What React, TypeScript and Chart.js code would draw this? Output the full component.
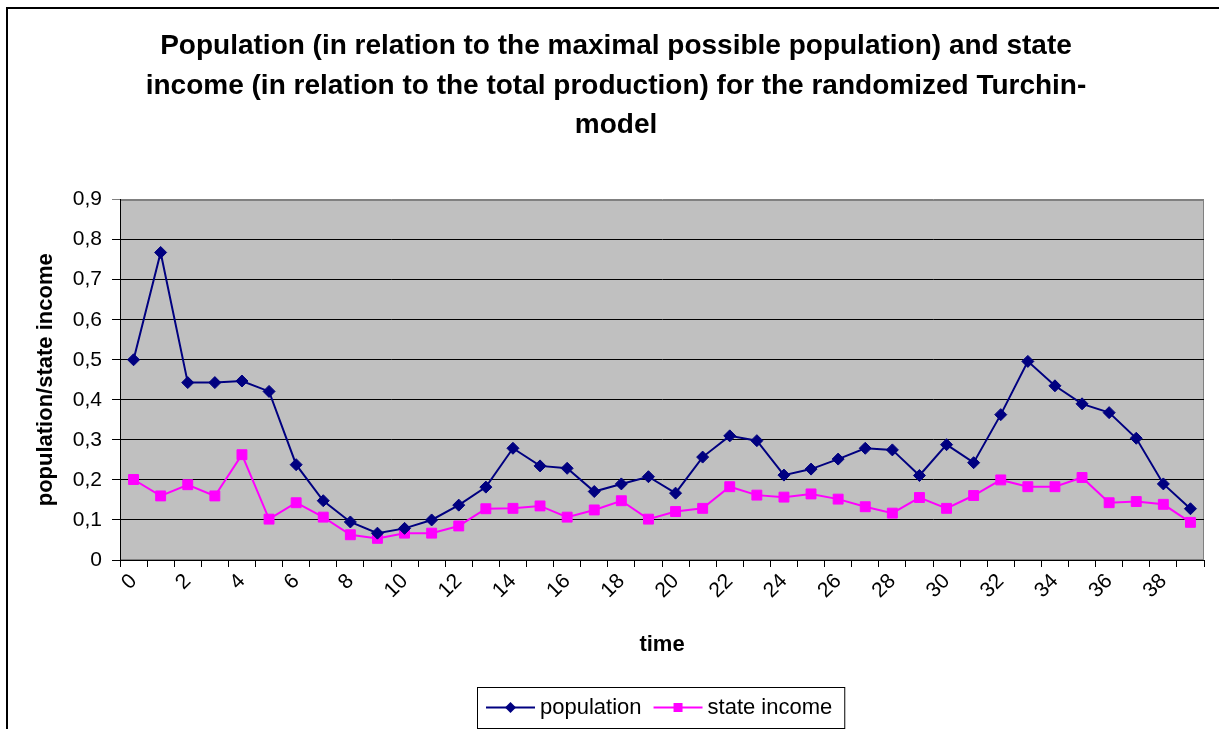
import React, { useEffect, useRef } from "react";
import { Chart, registerables } from "chart.js";

Chart.register(...registerables);

const timeCategories = [
  "0", "1", "2", "3", "4", "5", "6", "7", "8", "9",
  "10", "11", "12", "13", "14", "15", "16", "17", "18", "19",
  "20", "21", "22", "23", "24", "25", "26", "27", "28", "29",
  "30", "31", "32", "33", "34", "35", "36", "37", "38", "39",
];

const population = [
  0.5, 0.768, 0.443, 0.443, 0.447, 0.421, 0.238, 0.148, 0.095, 0.067,
  0.079, 0.1, 0.137, 0.182, 0.279, 0.235, 0.229, 0.171, 0.19, 0.208,
  0.167, 0.257, 0.31, 0.298, 0.212, 0.227, 0.252, 0.279, 0.275, 0.211,
  0.288, 0.243, 0.363, 0.496, 0.435, 0.39, 0.368, 0.304, 0.19, 0.128,
];

const stateIncome = [
  0.201, 0.16, 0.188, 0.16, 0.263, 0.102, 0.143, 0.107, 0.063, 0.054,
  0.067, 0.067, 0.085, 0.128, 0.129, 0.135, 0.107, 0.125, 0.148, 0.102,
  0.121, 0.129, 0.183, 0.162, 0.157, 0.165, 0.152, 0.133, 0.117, 0.156,
  0.129, 0.161, 0.2, 0.183, 0.183, 0.206, 0.143, 0.146, 0.139, 0.094,
];

const yTickLabels = ["0", "0,1", "0,2", "0,3", "0,4", "0,5", "0,6", "0,7", "0,8", "0,9"];

const titleLines = [
  "Population (in relation to the maximal possible population) and state",
  "income (in relation to the total production) for the randomized Turchin-",
  "model",
];

const FONT = '"Liberation Sans", Arial, sans-serif';
const NAVY = "#000080";
const MAGENTA = "#FF00FF";

const frameAndBackground = {
  id: "frameAndBackground",
  beforeDraw(chart: any) {
    const { ctx, chartArea } = chart;
    ctx.save();
    ctx.fillStyle = "#ffffff";
    ctx.fillRect(0, 0, chart.width, chart.height);
    ctx.strokeStyle = "#000000";
    ctx.lineWidth = 2;
    ctx.strokeRect(7, 8, chart.width + 20, chart.height + 20);
    ctx.fillStyle = "#C0C0C0";
    ctx.fillRect(chartArea.left, chartArea.top, chartArea.right - chartArea.left, chartArea.bottom - chartArea.top);
    ctx.strokeStyle = "#808080";
    ctx.lineWidth = 1;
    ctx.strokeRect(
      Math.round(chartArea.left) + 0.5,
      Math.round(chartArea.top) + 0.5,
      Math.round(chartArea.right - chartArea.left) - 1,
      Math.round(chartArea.bottom - chartArea.top) - 1
    );
    ctx.restore();
  },
};

function drawMarker(ctx: CanvasRenderingContext2D, style: string, x: number, y: number, color: string) {
  ctx.fillStyle = color;
  ctx.beginPath();
  if (style === "rectRot") {
    const r = 5.5;
    ctx.moveTo(x, y - r);
    ctx.lineTo(x + r, y);
    ctx.lineTo(x, y + r);
    ctx.lineTo(x - r, y);
    ctx.closePath();
  } else {
    const h = 4.5;
    ctx.rect(x - h, y - h, 2 * h, 2 * h);
  }
  ctx.fill();
}

const boxLegend = {
  id: "boxLegend",
  afterDraw(chart: any) {
    const { ctx, chartArea } = chart;
    const xs = chart.scales.x;
    ctx.save();
    ctx.font = `22px ${FONT}`;
    const items = chart.data.datasets.map((d: any) => ({
      text: d.label,
      color: d.borderColor,
      style: d.pointStyle,
      w: ctx.measureText(d.label).width,
    }));
    const sample = 49;
    const gap = 5;
    const itemGap = 12;
    const padL = 9;
    const padR = 12;
    let total = padL + padR;
    items.forEach((it: any, i: number) => {
      total += sample + gap + it.w + (i > 0 ? itemGap : 0);
    });
    const boxH = 41;
    const cx = (chartArea.left + chartArea.right) / 2 - 1;
    const left = Math.round(cx - total / 2);
    const top = Math.round(xs.bottom + 17);
    ctx.fillStyle = "#ffffff";
    ctx.fillRect(left, top, total, boxH);
    ctx.strokeStyle = "#000000";
    ctx.lineWidth = 1;
    ctx.strokeRect(left + 0.5, top + 0.5, total, boxH);
    const midY = top + boxH / 2;
    let x = left + padL;
    items.forEach((it: any, i: number) => {
      if (i > 0) x += itemGap;
      ctx.strokeStyle = it.color;
      ctx.lineWidth = 2;
      ctx.beginPath();
      ctx.moveTo(x, midY);
      ctx.lineTo(x + sample, midY);
      ctx.stroke();
      drawMarker(ctx, it.style, x + sample / 2, midY, it.color);
      x += sample + gap;
      ctx.fillStyle = "#000000";
      ctx.textBaseline = "middle";
      ctx.textAlign = "left";
      ctx.fillText(it.text, x, midY);
      x += it.w;
    });
    ctx.restore();
  },
};

export default function App() {
  const canvasRef = useRef<HTMLCanvasElement | null>(null);

  useEffect(() => {
    const canvas = canvasRef.current;
    if (!canvas) return;
    const chart = new Chart(canvas, {
      type: "line",
      data: {
        labels: timeCategories,
        datasets: [
          {
            label: "population",
            data: population,
            borderColor: NAVY,
            backgroundColor: NAVY,
            borderWidth: 2,
            pointStyle: "rectRot",
            pointRadius: 6,
            pointBorderWidth: 1,
            pointBorderColor: NAVY,
            pointBackgroundColor: NAVY,
            tension: 0,
            fill: false,
          },
          {
            label: "state income",
            data: stateIncome,
            borderColor: MAGENTA,
            backgroundColor: MAGENTA,
            borderWidth: 2,
            pointStyle: "rect",
            pointRadius: 7,
            pointBorderWidth: 1,
            pointBorderColor: MAGENTA,
            pointBackgroundColor: MAGENTA,
            tension: 0,
            fill: false,
          },
        ],
      },
      options: {
        responsive: false,
        animation: false,
        devicePixelRatio: 1,
        events: [],
        layout: { padding: { top: 0, left: 28, right: 15, bottom: 59 } },
        plugins: {
          legend: { display: false },
          tooltip: { enabled: false },
          title: {
            display: true,
            text: titleLines,
            color: "#000000",
            font: { family: FONT, size: 28, weight: "bold", lineHeight: 1.4 },
            padding: { top: 27, bottom: 55 },
          },
        },
        scales: {
          x: {
            type: "category",
            offset: true,
            grid: {
              offset: true,
              drawOnChartArea: false,
              drawTicks: true,
              tickLength: 7,
              color: "#000000",
            },
            border: { color: "#000000", width: 1 },
            ticks: {
              autoSkip: false,
              maxRotation: 45,
              minRotation: 45,
              padding: 2,
              color: "#000000",
              font: { family: FONT, size: 21 },
              callback: (_v: any, i: number) => (i % 2 === 0 ? timeCategories[i] : ""),
            },
            title: {
              display: true,
              text: "time",
              color: "#000000",
              font: { family: FONT, size: 22, weight: "bold" },
              padding: { top: 0, bottom: 12 },
            },
            afterFit: (s: any) => {
              s.height = 110;
            },
          },
          y: {
            min: 0,
            max: 0.9,
            ticks: {
              stepSize: 0.1,
              padding: 10,
              color: "#000000",
              font: { family: FONT, size: 21 },
              callback: (_v: any, i: number) => yTickLabels[i],
            },
            grid: {
              color: (c: any) => (c.tick && c.tick.value > 0.85 ? "#808080" : "#000000"),
              tickLength: 8,
              lineWidth: 1,
            },
            border: { color: "#000000", width: 1 },
            title: {
              display: true,
              text: "population/state income",
              color: "#000000",
              font: { family: FONT, size: 22, weight: "bold" },
              padding: { top: 5, bottom: 0 },
            },
            afterFit: (s: any) => {
              s.width = 92;
            },
          },
        },
      },
      plugins: [frameAndBackground, boxLegend],
    });
    return () => chart.destroy();
  }, []);

  return (
    <div style={{ position: "fixed", left: 0, top: 0, width: 1219, height: 729, background: "#fff" }}>
      <canvas ref={canvasRef} width={1219} height={729} style={{ display: "block" }} />
    </div>
  );
}
